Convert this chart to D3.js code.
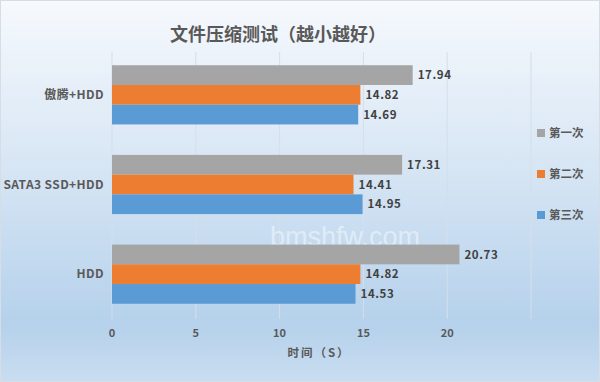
<!DOCTYPE html>
<html>
<head>
<meta charset="utf-8">
<script src="https://cdn.jsdelivr.net/npm/d3@7/dist/d3.min.js"></script>
<style>
 body { margin: 0; padding: 0; }
 svg { display: block; font-family: "Noto Sans CJK SC", "Noto Sans", sans-serif; }
</style>
</head>
<body>
<script>
 // chart data
 var categories = ["傲腾+HDD", "SATA3 SSD+HDD", "HDD"];
 var seriesNames = ["第一次", "第二次", "第三次"];
 var run1 = [17.94, 17.31, 20.73];
 var run2 = [14.82, 14.41, 14.82];
 var run3 = [14.69, 14.95, 14.53];
 var xTicks = [0, 5, 10, 15, 20, 25];
 var xTickLabels = ["0", "5", "10", "15", "20", ""];

 var colors = ["#a5a5a5", "#ed7d31", "#5b9bd5"];
 var series = [run1, run2, run3];

 var W = 600, H = 382;
 var margin = {top: 50, right: 69, bottom: 63, left: 112};

 var svg = d3.select("body").append("svg")
	 .attr("width", W)
	 .attr("height", H);

 // background gradient
 var grad = svg.append("defs").append("linearGradient")
	 .attr("id", "bg").attr("x1", 0).attr("y1", 0).attr("x2", 0).attr("y2", 1);
 grad.append("stop").attr("offset", "0%").attr("stop-color", "#f6f9fd");
 grad.append("stop").attr("offset", "45%").attr("stop-color", "#d6e5f4");
 grad.append("stop").attr("offset", "85%").attr("stop-color", "#b5d1eb");
 grad.append("stop").attr("offset", "100%").attr("stop-color", "#c9ddf0");

 svg.append("rect")
	 .attr("x", 0.5).attr("y", 0.5)
	 .attr("width", W - 1).attr("height", H - 1)
	 .attr("fill", "url(#bg)")
	 .attr("stroke", "#d6dde5");

 var x = d3.scaleLinear().domain([0, 25]).range([margin.left, W - margin.right]);
 var y = d3.scaleBand().domain(categories)
	 .range([margin.top, H - margin.bottom])
	 .paddingInner(0.34).paddingOuter(0.17);
 var yInner = d3.scaleBand().domain(seriesNames).range([0, y.bandwidth()]);

 // gridlines
 svg.append("g").selectAll("line")
	 .data(xTicks).enter().append("line")
	 .attr("x1", function(d){ return x(d); })
	 .attr("x2", function(d){ return x(d); })
	 .attr("y1", margin.top + 2)
	 .attr("y2", H - margin.bottom)
	 .attr("stroke", "#d3dfeb")
	 .attr("stroke-width", 1);

 // watermark
 svg.append("text")
	 .attr("x", 270).attr("y", 246)
	 .attr("font-family", "Liberation Sans, Arial, sans-serif")
	 .attr("font-size", 27)
	 .attr("fill", "#ffffff")
	 .attr("fill-opacity", 0.45)
	 .text("bmshfw.com");

 // bars
 var groups = svg.append("g").selectAll("g")
	 .data(categories).enter().append("g")
	 .attr("transform", function(d){ return "translate(0," + y(d) + ")"; });

 seriesNames.forEach(function(name, si){
	 groups.append("rect")
		 .attr("x", x(0))
		 .attr("y", yInner(name))
		 .attr("width", function(d, i){ return x(series[si][i]) - x(0); })
		 .attr("height", yInner.bandwidth())
		 .attr("fill", colors[si]);

	 groups.append("text")
		 .attr("x", function(d, i){ return x(series[si][i]) + 5; })
		 .attr("y", yInner(name) + yInner.bandwidth() / 2)
		 .attr("dy", "0.36em")
		 .attr("font-size", 11.5)
		 .attr("font-weight", "bold")
		 .attr("letter-spacing", 0.6)
		 .attr("fill", "#404040")
		 .text(function(d, i){ return series[si][i].toFixed(2); });
 });

 // category labels
 svg.append("g").selectAll("text")
	 .data(categories).enter().append("text")
	 .attr("x", margin.left - 8)
	 .attr("y", function(d){ return y(d) + y.bandwidth() / 2; })
	 .attr("dy", "0.36em")
	 .attr("text-anchor", "end")
	 .attr("font-size", 12)
	 .attr("font-weight", "bold")
	 .attr("letter-spacing", 0.4)
	 .attr("fill", "#595959")
	 .text(function(d){ return d; });

 // x axis tick labels
 svg.append("g").selectAll("text")
	 .data(xTicks).enter().append("text")
	 .attr("x", function(d){ return x(d); })
	 .attr("y", 337)
	 .attr("text-anchor", "middle")
	 .attr("font-size", 11)
	 .attr("font-weight", "bold")
	 .attr("fill", "#595959")
	 .text(function(d, i){ return xTickLabels[i]; });

 // axis title
 svg.append("text")
	 .attr("x", 319).attr("y", 357)
	 .attr("text-anchor", "middle")
	 .attr("font-size", 11.5)
	 .attr("font-weight", "bold")
	 .attr("fill", "#595959")
	 .attr("letter-spacing", 2)
	 .text("时间（S）");

 // title
 svg.append("text")
	 .attr("x", 278).attr("y", 41)
	 .attr("text-anchor", "middle")
	 .attr("font-size", 18)
	 .attr("font-weight", "bold")
	 .attr("fill", "#595959")
	 .text("文件压缩测试（越小越好）");

 // legend
 var legend = svg.append("g").selectAll("g")
	 .data(seriesNames).enter().append("g")
	 .attr("transform", function(d, i){ return "translate(537," + (133 + i * 41) + ")"; });
 legend.append("rect")
	 .attr("x", 0).attr("y", -4)
	 .attr("width", 8).attr("height", 8)
	 .attr("fill", function(d, i){ return colors[i]; });
 legend.append("text")
	 .attr("x", 12).attr("dy", "0.36em")
	 .attr("font-size", 11.5)
	 .attr("font-weight", "bold")
	 .attr("fill", "#595959")
	 .text(function(d){ return d; });
</script>
</body>
</html>
